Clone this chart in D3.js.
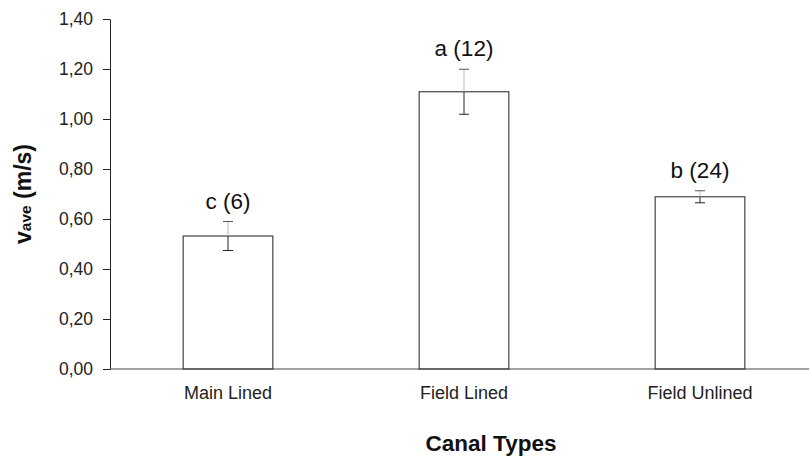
<!DOCTYPE html>
<html>
<head>
    <meta charset="UTF-8">
    <title>Canal Types</title>
    <style>
        body { margin: 0; background: #fff; }
        svg { font-family: Arial, "Liberation Sans", sans-serif; }
        .tick text { fill: #222; }
    </style>
</head>
<body>
<svg id="chart" width="809" height="459"></svg>
<script src="https://d3js.org/d3.v7.min.js"></script>
<script>
    let categories = ['Main Lined', 'Field Lined', 'Field Unlined'];
    let means = [0.532, 1.109, 0.689];
    let errors = [0.058, 0.09, 0.024];
    let groupLabels = ['c (6)', 'a (12)', 'b (24)'];
    let yTicks = [0, 0.2, 0.4, 0.6, 0.8, 1.0, 1.2, 1.4];

    let svg = d3.select('#chart');
    let fontFam = 'Arial, "Liberation Sans", sans-serif';

    let x = d3.scaleBand()
        .domain(categories)
        .range([110, 818])
        .paddingInner(0.62)
        .paddingOuter(0.31);

    let y = d3.scaleLinear()
        .domain([0, 1.4])
        .range([369, 19]);

    let fmt = d => d3.format('.2f')(d).replace('.', ',');

    // y axis
    let yAxis = svg.append('g')
        .attr('transform', 'translate(110,0)')
        .call(d3.axisLeft(y).tickValues(yTicks).tickFormat(fmt).tickSize(7).tickSizeOuter(0).tickPadding(10));
    yAxis.select('.domain').attr('stroke', '#222');
    yAxis.selectAll('.tick line').attr('stroke', '#222');
    yAxis.selectAll('.tick text').attr('font-size', 17.5).attr('font-family', fontFam);

    // bars
    svg.selectAll('.bar')
        .data(categories)
        .enter().append('rect')
        .attr('class', 'bar')
        .attr('x', d => x(d))
        .attr('width', x.bandwidth())
        .attr('y', (d, i) => y(means[i]))
        .attr('height', (d, i) => y(0) - y(means[i]))
        .attr('fill', '#fff')
        .attr('stroke', '#444')
        .attr('stroke-width', 1.2);

    // error bars: upper half light, lower half dark
    let cx = d => x(d) + x.bandwidth() / 2;
    let err = svg.selectAll('.err')
        .data(categories)
        .enter().append('g')
        .attr('class', 'err');
    err.append('line')
        .attr('x1', cx).attr('x2', cx)
        .attr('y1', (d, i) => y(means[i] + errors[i]))
        .attr('y2', (d, i) => y(means[i]))
        .attr('stroke', '#bbb');
    err.append('line')
        .attr('x1', cx).attr('x2', cx)
        .attr('y1', (d, i) => y(means[i]))
        .attr('y2', (d, i) => y(means[i] - errors[i]))
        .attr('stroke', '#222');
    err.append('line')
        .attr('x1', d => cx(d) - 5).attr('x2', d => cx(d) + 5)
        .attr('y1', (d, i) => y(means[i] + errors[i]))
        .attr('y2', (d, i) => y(means[i] + errors[i]))
        .attr('stroke', '#555');
    err.append('line')
        .attr('x1', d => cx(d) - 5).attr('x2', d => cx(d) + 5)
        .attr('y1', (d, i) => y(means[i] - errors[i]))
        .attr('y2', (d, i) => y(means[i] - errors[i]))
        .attr('stroke', '#222');

    // group labels
    svg.selectAll('.glabel')
        .data(categories)
        .enter().append('text')
        .attr('class', 'glabel')
        .attr('x', cx)
        .attr('y', (d, i) => y(means[i] + errors[i]) - 13)
        .attr('text-anchor', 'middle')
        .attr('font-size', 22.5)
        .attr('fill', '#111')
        .text((d, i) => groupLabels[i]);

    // x axis
    let xAxis = svg.append('g')
        .attr('transform', 'translate(0,369)')
        .call(d3.axisBottom(x).tickSize(0).tickPadding(17));
    xAxis.select('.domain').remove();
    xAxis.append('line')
        .attr('x1', 110).attr('x2', 809)
        .attr('stroke', '#444');
    xAxis.selectAll('.tick text').attr('font-size', 18).attr('font-family', fontFam);

    // axis titles
    svg.append('text')
        .attr('x', 491)
        .attr('y', 451)
        .attr('text-anchor', 'middle')
        .attr('font-size', 22.5)
        .attr('font-weight', 'bold')
        .attr('fill', '#111')
        .text('Canal Types');

    let yt = svg.append('text')
        .attr('transform', 'translate(31,194) rotate(-90)')
        .attr('text-anchor', 'middle')
        .attr('font-size', 23)
        .attr('font-weight', 'bold')
        .attr('fill', '#111');
    yt.append('tspan').text('v');
    yt.append('tspan').attr('font-size', 15.5).text('ave');
    yt.append('tspan').text(' (m/s)');
</script>
</body>
</html>
